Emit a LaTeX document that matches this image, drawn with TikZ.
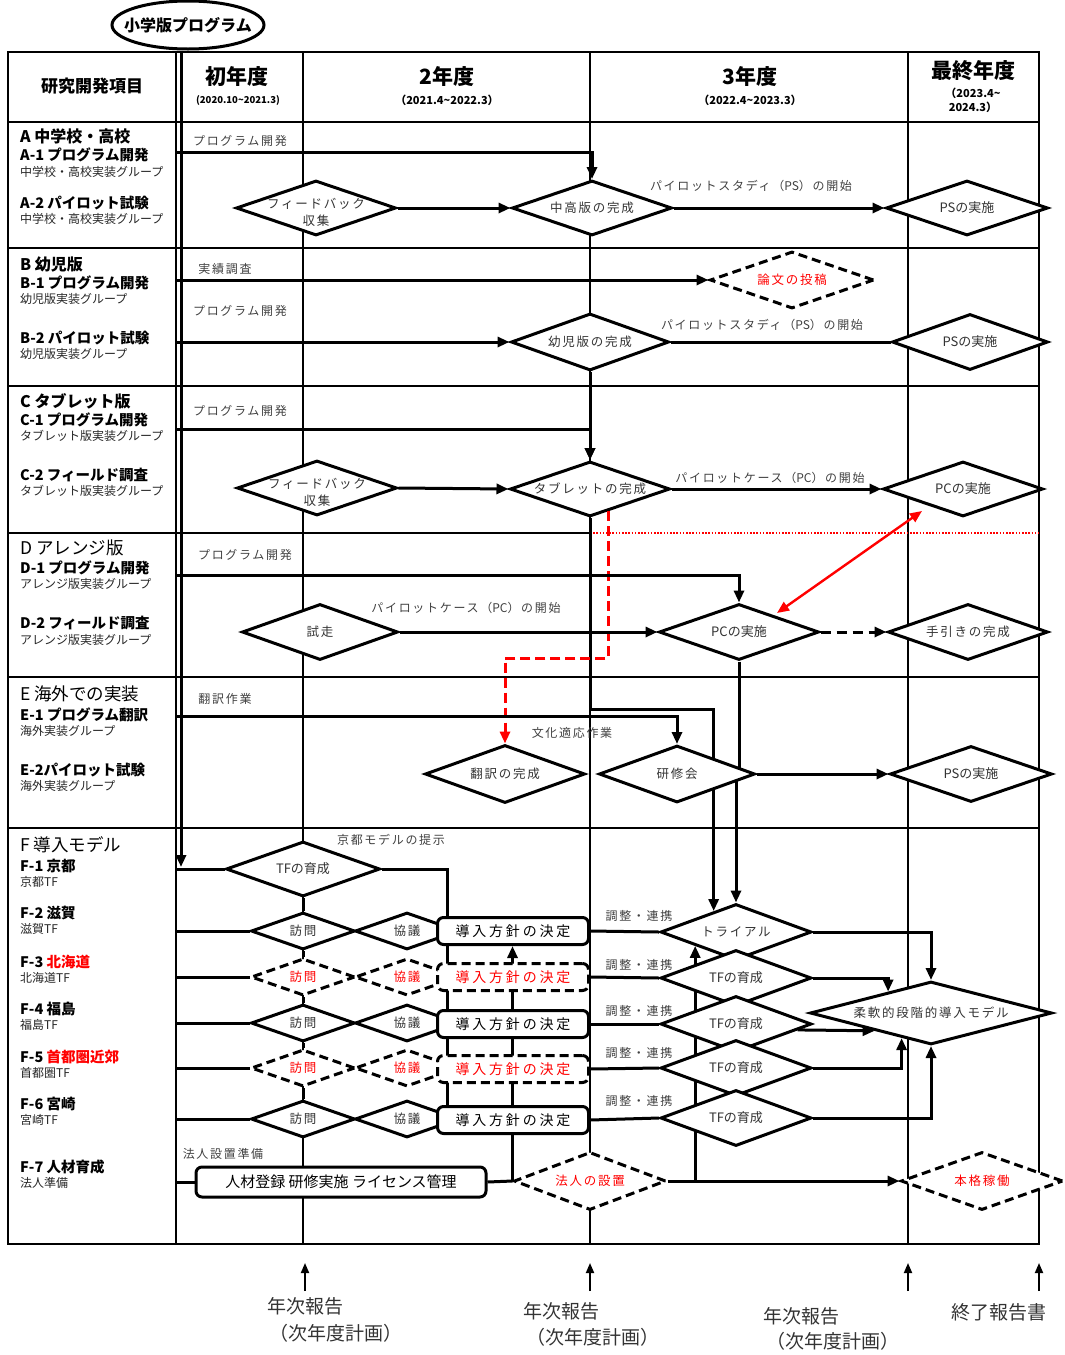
\documentclass[tikz,border=0pt]{standalone}
\usepackage{fontspec}
\setmainfont{Noto Sans CJK JP}
\newfontfamily\jpsp{Noto Sans CJK JP}[LetterSpace=14]
\newfontfamily\jpwide{Noto Sans CJK JP}[LetterSpace=20]
\usetikzlibrary{shapes.geometric,arrows.meta,calc}
\pgfdeclarelayer{bg}
\pgfsetlayers{bg,main}
\newcommand\myfs[1]{\fontsize{#1}{#1}\selectfont}
\newcommand\nls[1]{{\addfontfeature{LetterSpace=0}#1}}
\tikzset{
  gridl/.style={line width=1.5pt, black},
  conn/.style={line width=3pt, black},
  arr/.style={conn, -{Triangle[length=12pt,width=10pt]}},
  thinarr/.style={line width=1.8pt, black, -{Triangle[length=10pt,width=8pt]}},
  dia/.style 2 args={diamond, draw, line width=3pt, fill=white, inner sep=0pt, minimum width=#1, minimum height=#2},
  dashdia/.style={dash pattern=on 9pt off 5pt},
  dtx/.style={font=\jpsp\fontsize{12.5}{17}\selectfont, text=black!80, align=center},
  dtl/.style={font=\fontsize{13}{17}\selectfont, text=black!80, align=center},
  rtx/.style={font=\jpsp\fontsize{12.5}{17}\selectfont, text=red, align=center},
  note/.style={font=\jpsp\myfs{12}, text=black!75},
  pbox/.style={draw, line width=3pt, rounded corners=6pt, fill=white, minimum width=151pt, minimum height=27pt, inner sep=0pt, font=\jpwide\myfs{14}},
  rh/.style={anchor=west, inner sep=1pt, font=\bfseries\myfs{16}},
  rs/.style={anchor=west, inner sep=1pt, font=\bfseries\myfs{14.5}},
  rg/.style={anchor=west, inner sep=1pt, font=\myfs{12}, text=black!85},
  rb/.style={anchor=west, inner sep=1pt, font=\myfs{17.5}},
  ann/.style={font=\myfs{19}, text=black!80},
}
\begin{document}
\begin{tikzpicture}[x=1pt,y=-1pt]
\useasboundingbox (0,0) rectangle (1065,1355);

% ---------- grid ----------
\begin{pgfonlayer}{bg}
\draw[gridl] (8,52) rectangle (1039,1244);
\foreach \x in {176,303,590,908} \draw[gridl] (\x,52) -- (\x,1244);
\foreach \y in {122,248,386,677,828} \draw[gridl] (8,\y) -- (1039,\y);
\draw[gridl] (8,533) -- (590,533);
\draw[red, line width=1.6pt, dash pattern=on 1.6pt off 1.6pt] (590,533) -- (1039,533);
\end{pgfonlayer}

% ---------- top ellipse ----------
\node[ellipse, draw, line width=3pt, fill=white, minimum width=152pt, minimum height=48pt, inner sep=0pt, label={[font=\bfseries\myfs{16}]center:小学版プログラム}] (ell) at (188,25) {};

% ---------- header ----------
\node[font=\bfseries\myfs{17}] (hItem) at (92,86) {研究開発項目};
\node[font=\bfseries\myfs{21}] (hY1) at (237,77) {初年度};
\node[font=\bfseries\myfs{9.5}] (hY1d) at (238,100) {(2020.10\textasciitilde 2021.3)};
\node[font=\bfseries\myfs{21}] (hY2) at (447,77) {2年度};
\node[font=\bfseries\myfs{11}] (hY2d) at (447,100) {（2021.4\textasciitilde 2022.3）};
\node[font=\bfseries\myfs{21}] (hY3) at (750,77) {3年度};
\node[font=\bfseries\myfs{11}] (hY3d) at (750,100) {（2022.4\textasciitilde 2023.3）};
\node[font=\bfseries\myfs{21}] (hY4) at (973,71) {最終年度};
\node[font=\bfseries\fontsize{11}{14}\selectfont, align=center] (hY4d) at (973,100) {（2023.4\textasciitilde\\2024.3）};

% ---------- left column ----------
\node[rh] (lA) at (19,136) {A 中学校・高校};
\node[rs] (lA1) at (19,155) {A-1 プログラム開発};
\node[rg] (lA1g) at (19,172) {中学校・高校実装グループ};
\node[rs] (lA2) at (19,203) {A-2 パイロット試験};
\node[rg] (lA2g) at (19,219) {中学校・高校実装グループ};

\node[rh] (lB) at (19,264) {B 幼児版};
\node[rs] (lB1) at (19,283) {B-1 プログラム開発};
\node[rg] (lB1g) at (19,299) {幼児版実装グループ};
\node[rs] (lB2) at (19,338) {B-2 パイロット試験};
\node[rg] (lB2g) at (19,354) {幼児版実装グループ};

\node[rh] (lC) at (19,401) {C タブレット版};
\node[rs] (lC1) at (19,420) {C-1 プログラム開発};
\node[rg] (lC1g) at (19,436) {タブレット版実装グループ};
\node[rs] (lC2) at (19,475) {C-2 フィールド調査};
\node[rg] (lC2g) at (19,491) {タブレット版実装グループ};

\node[rb] (lD) at (19,548) {D アレンジ版};
\node[rs] (lD1) at (19,568) {D-1 プログラム開発};
\node[rg] (lD1g) at (19,584) {アレンジ版実装グループ};
\node[rs] (lD2) at (19,623) {D-2 フィールド調査};
\node[rg] (lD2g) at (19,640) {アレンジ版実装グループ};

\node[rb] (lE) at (19,694) {E 海外での実装};
\node[rs] (lE1) at (19,715) {E-1 プログラム翻訳};
\node[rg] (lE1g) at (19,731) {海外実装グループ};
\node[rs] (lE2) at (19,770) {E-2パイロット試験};
\node[rg] (lE2g) at (19,786) {海外実装グループ};

\node[rb] (lF) at (19,845) {F 導入モデル};
\node[rs] (lF1) at (19,866) {F-1 京都};
\node[rg] (lF1g) at (19,882) {京都TF};
\node[rs] (lF2) at (19,913) {F-2 滋賀};
\node[rg] (lF2g) at (19,929) {滋賀TF};
\node[rs] (lF3) at (19,962) {F-3 \textcolor{red}{北海道}};
\node[rg] (lF3g) at (19,978) {北海道TF};
\node[rs] (lF4) at (19,1009) {F-4 福島};
\node[rg] (lF4g) at (19,1025) {福島TF};
\node[rs] (lF5) at (19,1057) {F-5 \textcolor{red}{首都圏近郊}};
\node[rg] (lF5g) at (19,1073) {首都圏TF};
\node[rs] (lF6) at (19,1104) {F-6 宮崎};
\node[rg] (lF6g) at (19,1120) {宮崎TF};
\node[rs] (lF7) at (19,1167) {F-7 人材育成};
\node[rg] (lF7g) at (19,1183) {法人準備};

% ---------- notes ----------
\node[note] (nA1) at (240,141) {プログラム開発};
\node[note] (nB1) at (225,269) {実績調査};
\node[note] (nB2) at (240,311) {プログラム開発};
\node[note] (nC1) at (240,411) {プログラム開発};
\node[note] (nD1) at (245,555) {プログラム開発};
\node[note] (nE1) at (225,699) {翻訳作業};
\node[note] (nF7) at (223,1154) {法人設置準備};
\node[note] (pA) at (751,186) {パイロットスタディ（\nls{PS}）の開始};
\node[note] (pB) at (762,325) {パイロットスタディ（\nls{PS}）の開始};
\node[note] (pC) at (770,478) {パイロットケース（\nls{PC}）の開始};
\node[note] (pD) at (466,608) {パイロットケース（\nls{PC}）の開始};
\node[note] (pE) at (572,733) {文化適応作業};
\node[note] (pF) at (391,840) {京都モデルの提示};
\node[note] (c2) at (639,916) {調整・連携};
\node[note] (c3) at (639,965) {調整・連携};
\node[note] (c4) at (639,1011) {調整・連携};
\node[note] (c5) at (639,1053) {調整・連携};
\node[note] (c6) at (639,1101) {調整・連携};

% ---------- diamonds A-E ----------
\node[dia={160pt}{55pt}, label={[dtx,yshift=-4pt]center:{フィードバック\\収集}}] (fbA) at (316,208) {};
\node[dia={160pt}{55pt}, label={[dtx]center:中高版の完成}] (chuA) at (592,208) {};
\node[dia={162pt}{55pt}, label={[dtl]center:PSの実施}] (psA) at (967,208) {};

\node[dia={164pt}{57pt}, dashdia, label={[rtx]center:論文の投稿}] (ronB) at (792,280) {};
\node[dia={158pt}{57pt}, label={[dtx]center:幼児版の完成}] (yojiB) at (590,342) {};
\node[dia={156pt}{56pt}, label={[dtl]center:PSの実施}] (psB) at (970,342) {};

\node[dia={160pt}{55pt}, label={[dtx,yshift=-4pt]center:{フィードバック\\収集}}] (fbC) at (317,488) {};
\node[dia={160pt}{55pt}, label={[dtx]center:タブレットの完成}] (tabC) at (590,489) {};
\node[dia={160pt}{55pt}, label={[dtl]center:PCの実施}] (pcC) at (963,489) {};

\node[dia={156pt}{56pt}, label={[dtx]center:試走}] (shisoD) at (320,632) {};
\node[dia={160pt}{56pt}, label={[dtl]center:PCの実施}] (pcD) at (739,632) {};
\node[dia={160pt}{56pt}, label={[dtx]center:手引きの完成}] (tebD) at (968,632) {};

\node[dia={160pt}{58pt}, label={[dtx]center:翻訳の完成}] (trE) at (505,774) {};
\node[dia={156pt}{57pt}, label={[dtx]center:研修会}] (kenE) at (677,774) {};
\node[dia={162pt}{56pt}, label={[dtl]center:PSの実施}] (psE) at (971,774) {};

% ---------- row F ----------
\node[dia={154pt}{55pt}, label={[dtl]center:TFの育成}] (kyTF) at (303,869) {};
\node[dia={104pt}{37pt}, label={[dtx]center:訪問}] (hoF2) at (303,931) {};
\node[dia={104pt}{37pt}, label={[dtx]center:協議}] (kyF2) at (407,931) {};
\node[dia={104pt}{37pt}, dashdia, label={[rtx]center:訪問}] (hoF3) at (303,977) {};
\node[dia={104pt}{37pt}, dashdia, label={[rtx]center:協議}] (kyF3) at (407,977) {};
\node[dia={104pt}{37pt}, label={[dtx]center:訪問}] (hoF4) at (303,1023) {};
\node[dia={104pt}{37pt}, label={[dtx]center:協議}] (kyF4) at (407,1023) {};
\node[dia={104pt}{37pt}, dashdia, label={[rtx]center:訪問}] (hoF5) at (303,1068) {};
\node[dia={104pt}{37pt}, dashdia, label={[rtx]center:協議}] (kyF5) at (407,1068) {};
\node[dia={104pt}{37pt}, label={[dtx]center:訪問}] (hoF6) at (303,1119) {};
\node[dia={104pt}{37pt}, label={[dtx]center:協議}] (kyF6) at (407,1119) {};

\node[pbox] (bxF2) at (513,931) {導入方針の決定};
\node[pbox, dashdia, text=red] (bxF3) at (513,977) {導入方針の決定};
\node[pbox] (bxF4) at (513,1024) {導入方針の決定};
\node[pbox, dashdia, text=red] (bxF5) at (513,1069) {導入方針の決定};
\node[pbox] (bxF6) at (513,1120) {導入方針の決定};
\node[pbox, minimum width=290pt, minimum height=30pt, font=\myfs{15}] (bxF7) at (341,1182) {人材登録 研修実施 ライセンス管理};

\node[dia={151pt}{56pt}, label={[dtx]center:トライアル}] (triF) at (736,932) {};
\node[dia={151pt}{56pt}, label={[dtl]center:TFの育成}] (tfF3) at (736,978) {};
\node[dia={151pt}{56pt}, label={[dtl]center:TFの育成}] (tfF4) at (736,1024) {};
\node[dia={151pt}{56pt}, label={[dtl]center:TFの育成}] (tfF5) at (736,1068) {};
\node[dia={151pt}{56pt}, label={[dtl]center:TFの育成}] (tfF6) at (736,1118) {};
\node[dia={242pt}{63pt}, label={[dtx]center:柔軟的段階的導入モデル}] (flex) at (931,1013) {};

\node[dia={152pt}{58pt}, dashdia, label={[rtx]center:法人の設置}] (hojin) at (590,1181) {};
\node[dia={162pt}{58pt}, dashdia, label={[rtx]center:本格稼働}] (honk) at (982,1181) {};

% ---------- coordinates ----------
\coordinate (trunkE) at (181,867);
\coordinate (a1s) at (176,152);
\coordinate (b1s) at (176,280);
\coordinate (b2s) at (176,342);
\coordinate (c1s) at (176,429);
\coordinate (d1s) at (176,575);
\coordinate (e1s) at (176,716);
\coordinate (f1s) at (176,869);
\coordinate (f2s) at (176,931);
\coordinate (f3s) at (176,977);
\coordinate (f4s) at (176,1023);
\coordinate (f5s) at (176,1068);
\coordinate (f6s) at (176,1119);
\coordinate (f7s) at (176,1182);
\coordinate (rturn) at (505,658);
\coordinate (rA) at (922,511);
\coordinate (rB) at (777,613);
\coordinate (triUL) at ($(triF.north)!0.29!(triF.west)$);
\coordinate (triLL) at ($(triF.south)!0.53!(triF.west)$);

% ---------- pass-through connectors (under nodes) ----------
\begin{pgfonlayer}{bg}
\draw[arr] (tabC.south) -- ++(0,191) -| (triUL);
\draw[arr] (pcD.south) -- ++(0,114) -| (triF.north);
\draw[conn] (kyTF.east) -| ($(bxF6.north west)+(11,0)$);
\draw[arr] (hojin.west) -- (hojin.west |- bxF2.south);
\draw[arr] (triLL |- hojin.east) -- (triLL);
\end{pgfonlayer}

% ---------- connectors ----------
\draw[arr] (ell.south -| trunkE) -- (trunkE);
\draw[arr] (a1s) -| (chuA.north);
\draw[arr] (fbA.east) -- (chuA.west);
\draw[arr] (chuA.east) -- (psA.west);

\draw[arr] (b1s) -- (ronB.west);
\draw[arr] (b2s) -- (yojiB.west);
\draw[conn] (yojiB.east) -- (psB.west);
\draw[arr] (yojiB.south) -- (tabC.north);

\draw[arr] (c1s) -| (tabC.north);
\draw[arr] (fbC.east) -- (tabC.west);
\draw[arr] (tabC.east) -- (pcC.west);
\draw[red, line width=3pt, dash pattern=on 10pt off 5pt, -{Triangle[length=12pt,width=10pt]}] ($(tabC.south)!0.23!(tabC.east)$) |- (rturn) -- (trE.north);
\draw[red, line width=2.4pt, {Triangle[length=12pt,width=10pt]}-{Triangle[length=12pt,width=10pt]}] (rA) -- (rB);

\draw[arr] (d1s) -| (pcD.north);
\draw[arr] (shisoD.east) -- (pcD.west);
\draw[arr, dash pattern=on 10pt off 6pt] (pcD.east) -- (tebD.west);

\draw[arr] (e1s) -| (kenE.north);
\draw[arr] (kenE.east) -- (psE.west);

\draw[conn] (f1s) -- (kyTF.west);
\draw[conn] (f2s) -- (hoF2.west);
\draw[conn] (f3s) -- (hoF3.west);
\draw[conn] (f4s) -- (hoF4.west);
\draw[conn] (f5s) -- (hoF5.west);
\draw[conn] (f6s) -- (hoF6.west);
\draw[conn] (f7s) -- (bxF7.west);
\draw[conn] (kyTF.south) -- (hoF2.north);
\draw[conn] (hoF2.south) -- (hoF3.north);
\draw[conn] (hoF3.south) -- (hoF4.north);
\draw[conn] (hoF4.south) -- (hoF5.north);
\draw[conn] (hoF5.south) -- (hoF6.north);

\draw[conn] (bxF2.east) -- (triF.west);
\draw[conn] (bxF3.east) -- (tfF3.west);
\draw[conn] (bxF4.east) -- (tfF4.west);
\draw[conn] (bxF5.east) -- (tfF5.west);
\draw[conn] (bxF6.east) -- (tfF6.west);

\draw[arr] (triF.east) -| (flex.north);
\draw[arr] (tfF3.east) -| ($(flex.west)!0.65!(flex.north)$);
\draw[arr] ($(tfF4.east)!0.2!(tfF4.south)$) -- ($(flex.west)!0.54!(flex.south)$);
\draw[arr] (tfF5.east) -| ($(flex.south)!0.24!(flex.west)$);
\draw[arr] (tfF6.east) -| (flex.south);

\draw[conn] (bxF7.east) -- (hojin.west);
\draw[arr] (hojin.east) -- (honk.west);

% ---------- bottom reports ----------
\coordinate (r1b) at (305,1291); \coordinate (r1t) at (305,1263);
\coordinate (r2b) at (590,1291); \coordinate (r2t) at (590,1263);
\coordinate (r3b) at (908,1291); \coordinate (r3t) at (908,1263);
\coordinate (r4b) at (1039,1291); \coordinate (r4t) at (1039,1263);
\draw[thinarr] (r1b) -- (r1t);
\draw[thinarr] (r2b) -- (r2t);
\draw[thinarr] (r3b) -- (r3t);
\draw[thinarr] (r4b) -- (r4t);
\node[ann] (a1) at (305,1306) {年次報告};
\node[ann] (a1p) at (336,1333) {（次年度計画）};
\node[ann] (a2) at (561,1311) {年次報告};
\node[ann] (a2p) at (593,1337) {（次年度計画）};
\node[ann] (a3) at (801,1316) {年次報告};
\node[ann] (a3p) at (833,1341) {（次年度計画）};
\node[ann] (a4) at (999,1312) {終了報告書};
\end{tikzpicture}
\end{document}
